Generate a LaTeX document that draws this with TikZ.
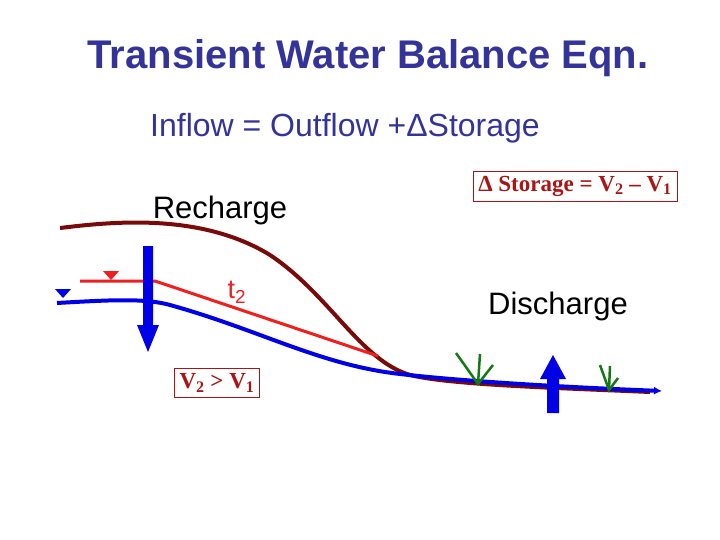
\documentclass[tikz,border=0pt]{standalone}
\usepackage{fontspec}
\setmainfont{Liberation Sans}
\newfontfamily\tnr{Liberation Serif}
\usetikzlibrary{arrows.meta}
\definecolor{tblue}{RGB}{51,51,153}
\definecolor{wblue}{RGB}{0,0,230}
\definecolor{wred}{RGB}{240,30,30}
\definecolor{brown}{RGB}{120,10,10}
\definecolor{boxred}{RGB}{170,20,20}
\definecolor{grn}{RGB}{20,120,20}
\begin{document}
\begin{tikzpicture}[x=1pt,y=-1pt,
  lbl/.style={inner sep=0pt,font=\fontsize{31}{34}\selectfont},
  eqbox/.style={draw=boxred,text=boxred,font=\tnr\bfseries\fontsize{23}{26}\selectfont,inner sep=5pt},
  gr/.style={draw=grn,line width=2.5pt}]
\useasboundingbox (0,0) rectangle (720,540);
\node[lbl,font=\bfseries\fontsize{40}{44}\selectfont,text=tblue] (title) at (368,58) {Transient Water Balance Eqn.};
\node[lbl,text=tblue,font=\fontsize{32}{36}\selectfont] (eq) at (345,128) {Inflow = Outflow +ΔStorage};
\node[lbl] (rech) at (220,210) {Recharge};
\node[lbl] (dis) at (558,306) {Discharge};
\node[lbl,text=wred,font=\fontsize{27}{30}\selectfont] (t2) at (237,292) {t\textsubscript{2}};
\node[eqbox] (ds) at (575,186) {Δ Storage = V\textsubscript{2} – V\textsubscript{1}};
\node[eqbox] (v) at (217,383) {V\textsubscript{2} > V\textsubscript{1}};
% brown
\draw[brown,line width=4pt] (60,228) .. controls (110,222) and (200,212) .. (270,255) .. controls (330,295) and (360,360) .. (410,375) .. controls (450,385) and (560,388) .. (650,392);
% red
\draw[wred,line width=3pt] (80,281) -- (155,281) -- (378,356);
% blue
\draw[wblue,line width=4pt,-{Latex[length=8pt,width=8pt]}] (57,303) .. controls (110,300) and (145,298) .. (170,305) .. controls (260,330) and (320,365) .. (400,374) .. controls (460,381) and (560,387) .. (662,391);
% triangles
\fill[wred] (103,271) -- (119,271) -- (111,280) -- cycle;
\fill[wblue] (55,289) -- (71,289) -- (63,298) -- cycle;
% down arrow
\fill[wblue] (143,246) -- (153,246) -- (153,325) -- (159,325) -- (148,352) -- (137,325) -- (143,325) -- cycle;
% up arrow
\fill[wblue] (547,413) -- (559,413) -- (559,379) -- (566,379) -- (553,355) -- (540,379) -- (547,379) -- cycle;
% green arrows
\coordinate (g1) at (478,384);
\draw[gr] (456,353) -- (g1) -- (493,365);
\draw[gr] (480,354) -- (g1);
\coordinate (g2) at (609,390);
\draw[gr] (600,365) -- (g2) -- (618,378);
\draw[gr] (610,366) -- (g2);
\end{tikzpicture}
\end{document}
